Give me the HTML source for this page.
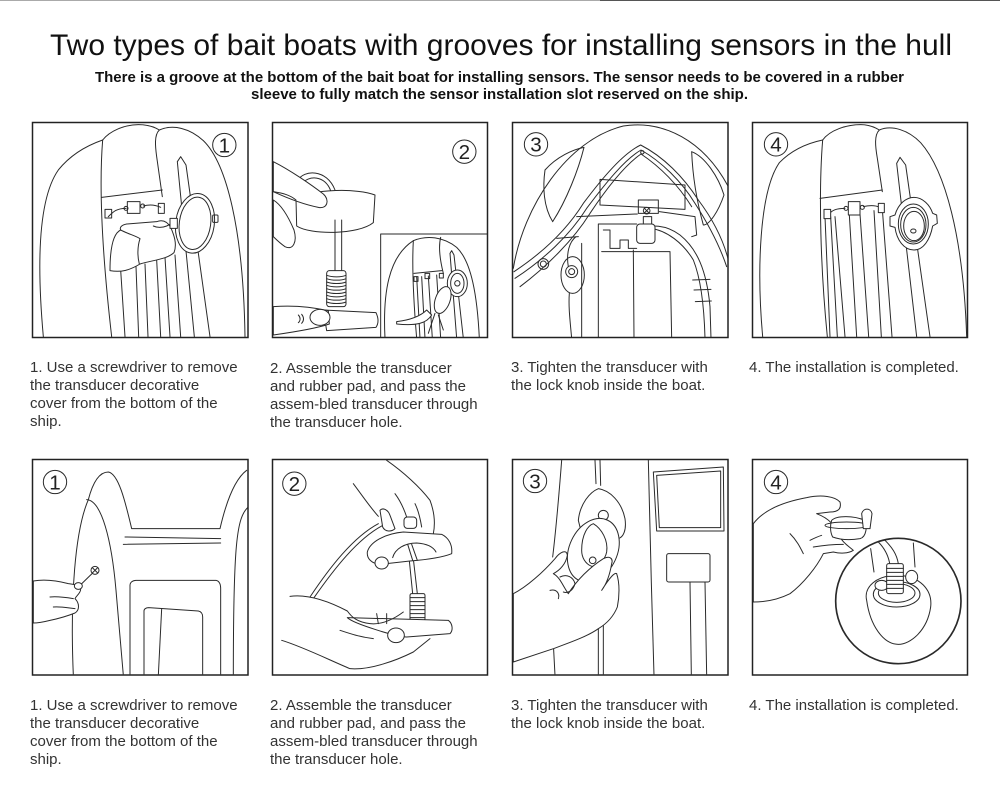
<!DOCTYPE html>
<html>
<head>
<meta charset="utf-8">
<style>
html,body{margin:0;padding:0;background:#fff;}
body{width:1000px;height:803px;overflow:hidden;}
svg{display:block;}
.t{font-family:"Liberation Sans",Arial,sans-serif;}
.cap{font-family:"Liberation Sans",Arial,sans-serif;font-size:15px;fill:#333;}
.art{fill:none;stroke:#2a2a2a;stroke-width:3;stroke-linecap:round;stroke-linejoin:round;}
.art .w{fill:#fff;}
.lbl{font-family:"Liberation Sans",Arial,sans-serif;font-size:62px;fill:#222;stroke:none;}
.box{fill:none;stroke:#222;stroke-width:1.5;}
</style>
</head>
<body>
<svg width="1000" height="803" viewBox="0 0 1000 803" xmlns="http://www.w3.org/2000/svg">
<defs>
<clipPath id="pc" clipPathUnits="userSpaceOnUse"><rect x="9" y="9" width="645" height="643"/></clipPath>
</defs>
<line x1="0" y1="0.5" x2="600" y2="0.5" stroke="#aaa" stroke-width="1"/>
<line x1="600" y1="0.5" x2="1000" y2="0.5" stroke="#555" stroke-width="1"/>

<text class="t" x="50" y="55" font-size="30" fill="#111" textLength="902" lengthAdjust="spacingAndGlyphs">Two types of bait boats with grooves for installing sensors in the hull</text>
<text class="t" x="95" y="82" font-size="15" font-weight="bold" fill="#111" textLength="809" lengthAdjust="spacingAndGlyphs">There is a groove at the bottom of the bait boat for installing sensors. The sensor needs to be covered in a rubber</text>
<text class="t" x="251" y="99" font-size="15" font-weight="bold" fill="#111" textLength="497" lengthAdjust="spacingAndGlyphs">sleeve to fully match the sensor installation slot reserved on the ship.</text>

<!-- ROW 1 PANEL 1 -->
<g class="art" transform="translate(30,120) scale(0.33333)" clip-path="url(#pc)">
<path d="M40,650 C22,450 22,240 85,150 C125,100 175,75 218,60"/>
<path d="M218,60 C240,32 285,14 325,14 C352,14 372,20 388,30"/>
<path d="M218,60 C205,220 222,450 245,650"/>
<path d="M388,30 C430,12 480,25 520,62 C590,130 640,330 645,650"/>
<path d="M388,30 C372,45 376,80 380,110 L397,230"/>
<path d="M442,125 L452,110 L468,135 L540,650 M442,125 L493,650"/>
<path d="M215,232 L397,210"/>
<path d="M272,450 L285,650 M318,440 L326,650 M345,432 L354,650 M380,420 L392,650 M405,412 L420,650 M435,405 L452,650"/>
<ellipse class="w" cx="495" cy="310" rx="58" ry="90" transform="rotate(8 495 310)"/>
<ellipse cx="495" cy="310" rx="47" ry="79" transform="rotate(8 495 310)"/>
<rect x="548" y="285" width="16" height="22" rx="3"/>
<path d="M235,290 C250,275 260,265 288,265 M340,258 C358,253 375,254 392,262"/>
<rect x="292" y="245" width="38" height="35"/>
<circle cx="288" cy="265" r="6"/><circle cx="338" cy="258" r="6"/>
<rect x="225" y="268" width="20" height="26"/><rect x="385" y="250" width="18" height="30"/>
<path class="w" d="M240,452 C275,458 300,450 330,432 C370,420 410,418 432,398 C442,372 432,345 422,322 C412,305 398,298 380,305 L290,312 C275,315 268,322 272,330 C250,340 240,380 240,452 Z"/>
<path d="M272,330 C295,342 318,348 330,356 C322,380 322,410 328,432 M370,318 C385,325 400,322 410,318 L435,305"/>
<rect class="w" x="420" y="295" width="22" height="30"/>
<circle cx="583" cy="75" r="35"/><text class="lbl" x="583" y="97" text-anchor="middle">1</text>
</g>

<!-- ROW 1 PANEL 2 -->
<g class="art" transform="translate(270,120) scale(0.33333)" clip-path="url(#pc)">
<path d="M85,180 C100,150 170,145 195,210 M95,192 C115,165 165,165 182,212"/>
<path class="w" d="M78,238 C130,205 265,205 315,225 L310,308 C265,345 120,345 80,318 Z"/>
<path d="M195,300 L195,455 M215,300 L215,455"/>
<rect class="w" x="170" y="452" width="58" height="108" rx="8"/>
<path d="M170,466 C185,472 215,472 228,466 M170,476 C185,482 215,482 228,476 M170,486 C185,492 215,492 228,486 M170,496 C185,502 215,502 228,496 M170,506 C185,512 215,512 228,506 M170,516 C185,522 215,522 228,516 M170,526 C185,532 215,532 228,526 M170,536 C185,542 215,542 228,536 M170,546 C185,552 215,552 228,546"/>
<path class="w" d="M160,570 L318,578 C326,595 326,610 318,622 L170,632 Z"/>
<path class="w" d="M10,125 C60,150 125,195 160,222 C180,240 172,268 145,262 C110,255 60,238 10,215 Z"/>
<path class="w" d="M10,240 C35,255 55,290 72,330 C82,365 70,392 45,380 C30,370 20,360 10,350 Z"/>
<path d="M10,215 C40,220 60,225 78,240"/>
<path class="w" d="M10,560 C70,555 130,562 175,572 L178,612 C140,625 80,635 10,645 Z"/>
<ellipse class="w" cx="150" cy="592" rx="30" ry="24"/>
<path d="M85,585 C92,592 92,602 85,608 M95,583 C102,592 102,602 95,610"/>
<path class="w" d="M332,660 L332,342 L660,342 L660,660 Z"/>
<path d="M345,655 C338,520 355,410 430,362 C470,345 520,350 560,382 C605,425 622,530 628,655"/>
<path d="M430,362 C425,450 432,560 440,655 M512,352 C505,380 510,420 520,460 M432,460 L515,452"/>
<path d="M440,470 L450,655 M455,470 L465,655 M475,468 L487,655 M500,465 L512,655"/>
<path d="M540,400 L545,392 L552,405 L580,655 M540,400 L560,655"/>
<ellipse class="w" cx="562" cy="490" rx="30" ry="40"/><ellipse cx="562" cy="490" rx="20" ry="30"/><circle cx="562" cy="490" r="8"/>
<rect x="432" y="470" width="12" height="14"/><rect x="465" y="460" width="14" height="16"/><rect x="508" y="460" width="12" height="14"/>
<ellipse class="w" cx="518" cy="540" rx="22" ry="42" transform="rotate(20 518 540)"/>
<path class="w" d="M380,605 C420,600 450,590 470,570 L485,585 C470,610 440,618 380,612 Z"/>
<path d="M495,580 L475,640 M505,585 L520,630"/>
<circle cx="583" cy="95" r="35"/><text class="lbl" x="583" y="117" text-anchor="middle">2</text>
</g>

<!-- ROW 1 PANEL 3 -->
<g class="art" transform="translate(510,120) scale(0.33333)" clip-path="url(#pc)">
<path d="M10,445 C40,260 170,60 340,18 C460,0 580,60 655,200"/>
<path d="M105,150 C140,110 190,88 222,82 C205,150 170,240 128,305 C100,260 98,200 105,150 Z"/>
<path d="M545,95 C585,110 625,170 642,225 C625,275 598,315 580,315 C562,250 548,170 545,95 Z"/>
<path d="M12,455 C95,400 170,330 220,250 C280,170 340,100 392,75 C460,110 520,170 565,240 C610,300 640,360 655,420"/>
<path d="M15,475 C100,420 180,345 230,265 C290,185 345,118 393,90 C455,125 515,185 555,250 C600,320 630,380 650,440"/>
<path d="M30,500 C110,440 190,360 240,280 C290,205 345,135 393,102 C450,140 505,195 545,260"/>
<circle cx="397" cy="97" r="5"/>
<path d="M270,178 L525,195 L525,268 L270,255 Z"/>
<path d="M200,290 L382,282 M448,275 L555,290 L560,345 L545,350"/>
<rect x="385" y="240" width="60" height="40"/>
<circle cx="410" cy="272" r="10"/><path d="M403,265 L417,279 M417,265 L403,279"/>
<rect x="400" y="290" width="25" height="22"/>
<path d="M265,655 L265,312 L380,312 M280,330 L300,330 L300,385 L330,385 L330,360 L355,360 L355,385 L380,385"/>
<path d="M370,390 L372,655 M480,395 L485,655 M275,395 L480,395"/>
<path d="M385,330 C420,310 470,315 510,345 C560,385 590,450 600,560 L603,655"/>
<path d="M420,325 C470,330 520,370 550,420 C570,470 582,540 585,655"/>
<path d="M548,480 L600,478 M552,510 L603,508 M556,545 L604,543"/>
<rect class="w" x="380" y="312" width="55" height="58" rx="10"/>
<ellipse class="w" cx="188" cy="465" rx="35" ry="55"/>
<circle cx="185" cy="455" r="18"/><circle cx="185" cy="455" r="9"/>
<path d="M175,440 C168,400 178,365 198,350 M140,355 L205,350"/>
<path d="M185,655 C180,600 175,560 178,520 M215,655 L215,370"/>
<circle cx="100" cy="432" r="16"/><circle cx="100" cy="432" r="9"/>
<circle cx="78" cy="73" r="35"/><text class="lbl" x="78" y="95" text-anchor="middle">3</text>
</g>

<!-- ROW 1 PANEL 4 -->
<g class="art" transform="translate(750,120) scale(0.33333)" clip-path="url(#pc)">
<path d="M38,650 C20,450 28,215 88,128 C130,85 180,68 218,60"/>
<path d="M218,60 C240,30 290,14 332,14 C358,14 375,22 388,30"/>
<path d="M218,60 C205,220 212,450 232,650"/>
<path d="M388,30 C425,14 475,30 512,68 C585,150 640,350 650,650"/>
<path d="M388,30 C372,45 376,80 382,115 L397,215"/>
<path d="M210,235 L397,210"/>
<path d="M440,130 L450,112 L467,135 L540,650 M440,130 L500,650"/>
<path d="M225,290 L240,650 M242,290 L262,650 M255,290 L285,650 M298,285 L320,650 M330,282 L356,650 M372,272 L394,650 M397,268 L426,650"/>
<path d="M235,285 C245,270 260,265 285,265 M340,260 C360,255 375,255 390,262"/>
<rect class="w" x="222" y="268" width="20" height="28"/><rect class="w" x="295" y="245" width="35" height="40"/><rect class="w" x="385" y="250" width="18" height="28"/>
<circle cx="288" cy="265" r="6"/><circle cx="337" cy="262" r="6"/>
<path class="w" d="M420,290 L435,285 C445,250 470,232 492,232 C518,232 540,255 548,280 L560,285 L562,310 L548,318 C540,360 520,390 492,390 C462,390 440,360 435,322 L420,318 Z"/>
<ellipse cx="490" cy="312" rx="45" ry="60"/><ellipse cx="490" cy="314" rx="38" ry="52"/><ellipse cx="492" cy="318" rx="31" ry="44"/>
<ellipse cx="490" cy="333" rx="8" ry="6"/>
<circle cx="78" cy="73" r="35"/><text class="lbl" x="78" y="95" text-anchor="middle">4</text>
</g>

<!-- ROW 2 PANEL 1 -->
<g class="art" transform="translate(30,457) scale(0.33333)" clip-path="url(#pc)">
<path d="M130,655 C120,420 135,220 175,128 C190,70 210,45 235,45 C265,50 285,130 305,215 L570,215 C585,150 610,70 650,40"/>
<path d="M170,128 C215,130 245,250 258,400 C268,520 275,600 280,655"/>
<path d="M655,150 C620,180 610,260 610,655"/>
<path d="M285,240 L572,245 M280,262 L572,258"/>
<path d="M300,655 L300,385 C300,376 308,370 318,370 L558,370 C568,372 572,382 572,395 L572,655"/>
<path d="M342,655 L342,462 C342,456 348,452 356,452 L505,462 C514,464 518,470 518,480 L518,655"/>
<path d="M395,455 L385,655"/>
<path class="w" d="M10,372 C45,366 85,372 115,380 C135,382 150,386 152,398 C150,410 140,415 135,425 C150,440 148,460 135,468 C110,478 85,485 60,490 C40,495 25,498 10,498 Z"/>
<path d="M60,420 C80,418 100,420 130,425 M70,450 C90,448 110,452 135,455"/>
<path d="M150,385 L188,348"/>
<circle class="w" cx="195" cy="340" r="12"/><path d="M188,333 L202,347 M202,333 L188,347"/>
<ellipse class="w" cx="145" cy="387" rx="12" ry="10"/>
<circle cx="75" cy="75" r="35"/><text class="lbl" x="75" y="97" text-anchor="middle">1</text>
</g>

<!-- ROW 2 PANEL 2 -->
<g class="art" transform="translate(270,457) scale(0.33333)" clip-path="url(#pc)">
<path d="M325,200 C250,240 180,330 120,420 M337,206 C262,246 192,336 132,422"/>
<path d="M250,80 C280,120 300,150 325,178"/>
<path d="M350,10 C400,45 450,90 480,130 C495,170 495,205 490,230"/>
<path d="M375,110 C390,130 400,150 410,180 M435,140 C445,160 450,180 455,210"/>
<path class="w" d="M330,160 C340,150 355,160 360,175 L375,215 C365,225 345,225 338,210 Z"/>
<rect class="w" x="402" y="180" width="38" height="34" rx="10"/>
<path d="M413,262 L428,410 M425,262 L442,410"/>
<path class="w" d="M292,285 C300,255 345,230 400,225 L515,232 C535,242 548,262 545,290 C520,300 470,308 420,312 L330,322 C305,320 290,305 292,285 Z"/>
<path d="M368,302 C375,275 405,258 440,258 C470,260 490,270 498,285"/>
<path d="M413,262 L428,310 M425,262 L442,310"/>
<ellipse class="w" cx="335" cy="318" rx="20" ry="18"/>
<rect class="w" x="420" y="410" width="45" height="80" rx="5"/>
<path d="M420,422 L465,422 M420,434 L465,434 M420,446 L465,446 M420,458 L465,458 M420,470 L465,470 M420,482 L465,482"/>
<path class="w" d="M232,482 L535,490 C548,500 550,520 540,530 L410,540 C380,540 250,500 232,482 Z"/>
<path d="M60,418 C120,410 190,440 232,462 C245,480 260,495 300,500 C340,505 380,480 400,465"/>
<path d="M35,550 C100,570 180,610 240,635 C300,640 380,610 430,585 L480,545"/>
<path d="M210,520 C240,530 270,540 310,545 M320,470 L325,500 M350,470 L350,500"/>
<ellipse class="w" cx="378" cy="535" rx="25" ry="22"/>
<circle cx="73" cy="80" r="35"/><text class="lbl" x="73" y="102" text-anchor="middle">2</text>
</g>

<!-- ROW 2 PANEL 3 -->
<g class="art" transform="translate(510,457) scale(0.33333)" clip-path="url(#pc)">
<path d="M155,10 C148,100 140,200 128,300"/>
<path d="M255,10 L258,80 M270,10 L272,85 M265,420 L265,655 M280,420 L280,655 M130,560 L135,655"/>
<path d="M415,10 C420,200 425,450 432,655"/>
<path d="M430,45 L640,30 L642,222 L440,222 Z M440,55 L632,42 L632,212 L448,212 Z"/>
<rect x="470" y="290" width="130" height="85" rx="6"/>
<path d="M540,375 L544,655 M585,375 L590,655"/>
<path class="w" d="M205,190 C210,140 240,105 265,95 C300,100 335,135 345,185 C350,220 340,240 325,245 C290,255 240,250 215,230 Z"/>
<circle cx="280" cy="175" r="15"/>
<ellipse class="w" cx="250" cy="280" rx="72" ry="100" transform="rotate(25 250 280)"/>
<path d="M215,280 C215,230 235,205 250,200 C275,215 295,250 290,285 C285,310 262,330 245,328 C225,320 215,300 215,280 Z"/>
<circle cx="248" cy="310" r="10"/>
<path class="w" d="M10,410 C50,390 100,345 135,305 C150,285 170,275 172,295 C168,320 150,340 130,350 C150,360 160,390 175,410 C200,370 240,330 280,305 C300,295 310,305 305,320 C300,350 290,380 275,400 C300,360 315,345 320,350 C330,380 328,420 322,450 C310,480 290,500 265,515 C230,540 170,560 130,575 C80,592 40,605 10,615 Z"/>
<path d="M150,360 C170,350 190,360 195,380 C190,400 175,410 160,405 M120,400 C140,395 150,410 145,425"/>
<circle cx="75" cy="72" r="35"/><text class="lbl" x="75" y="94" text-anchor="middle">3</text>
</g>

<!-- ROW 2 PANEL 4 -->
<g class="art" transform="translate(750,457) scale(0.33333)" clip-path="url(#pc)">
<circle cx="445" cy="432" r="188" stroke-width="5"/>
<path d="M362,275 L372,345 M490,258 L495,330"/>
<path d="M420,325 C415,290 400,270 385,255 M445,320 C440,290 425,270 405,250"/>
<path d="M350,430 C340,390 380,355 440,355 C510,355 548,400 542,450 C532,520 482,562 445,562 C400,562 360,505 350,430 Z"/>
<ellipse cx="440" cy="412" rx="70" ry="38"/>
<ellipse class="w" cx="440" cy="408" rx="55" ry="28"/>
<ellipse class="w" cx="395" cy="385" rx="20" ry="15"/><ellipse class="w" cx="485" cy="360" rx="18" ry="20"/>
<rect class="w" x="410" y="320" width="50" height="90" rx="6"/>
<path d="M410,334 L460,334 M410,346 L460,346 M410,358 L460,358 M410,370 L460,370 M410,382 L460,382 M410,394 L460,394"/>
<path class="w" d="M10,200 C40,160 100,135 170,122 C215,112 255,118 270,135 C275,155 265,165 240,165 L200,170 C240,185 260,210 270,240 C280,260 300,270 310,280 C295,290 270,290 250,285 L220,290 C200,330 160,380 120,410 C80,430 40,435 10,435 Z"/>
<path class="w" d="M245,190 C260,175 310,175 345,190 C352,205 350,240 330,245 C300,250 270,248 248,240 C240,225 240,205 245,190 Z"/>
<ellipse cx="290" cy="205" rx="65" ry="10"/>
<path class="w" d="M335,170 C340,152 362,152 366,170 L360,215 L340,215 Z"/>
<path d="M190,270 C220,265 250,262 280,262 M180,250 C190,245 200,240 215,235 M120,230 C140,250 150,270 160,290"/>
<circle cx="78" cy="75" r="35"/><text class="lbl" x="78" y="97" text-anchor="middle">4</text>
</g>

<!-- boxes -->
<rect class="box" x="32.5" y="122.5" width="215.5" height="215"/>
<rect class="box" x="272.5" y="122.5" width="215" height="215"/>
<rect class="box" x="512.5" y="122.5" width="215.5" height="215"/>
<rect class="box" x="752.5" y="122.5" width="215" height="215"/>
<rect class="box" x="32.5" y="459.5" width="215.5" height="215.5"/>
<rect class="box" x="272.5" y="459.5" width="215" height="215.5"/>
<rect class="box" x="512.5" y="459.5" width="215.5" height="215.5"/>
<rect class="box" x="752.5" y="459.5" width="215" height="215.5"/>

<!-- captions row 1 -->
<text class="cap" x="30" y="372">1. Use a screwdriver to remove</text>
<text class="cap" x="30" y="390">the transducer decorative</text>
<text class="cap" x="30" y="408">cover from the bottom of the</text>
<text class="cap" x="30" y="426">ship.</text>
<text class="cap" x="270" y="373">2. Assemble the transducer</text>
<text class="cap" x="270" y="391">and rubber pad, and pass the</text>
<text class="cap" x="270" y="409">assem-bled transducer through</text>
<text class="cap" x="270" y="427">the transducer hole.</text>
<text class="cap" x="511" y="372">3. Tighten the transducer with</text>
<text class="cap" x="511" y="390">the lock knob inside the boat.</text>
<text class="cap" x="749" y="372">4. The installation is completed.</text>

<!-- captions row 2 -->
<text class="cap" x="30" y="710">1. Use a screwdriver to remove</text>
<text class="cap" x="30" y="728">the transducer decorative</text>
<text class="cap" x="30" y="746">cover from the bottom of the</text>
<text class="cap" x="30" y="764">ship.</text>
<text class="cap" x="270" y="710">2. Assemble the transducer</text>
<text class="cap" x="270" y="728">and rubber pad, and pass the</text>
<text class="cap" x="270" y="746">assem-bled transducer through</text>
<text class="cap" x="270" y="764">the transducer hole.</text>
<text class="cap" x="511" y="710">3. Tighten the transducer with</text>
<text class="cap" x="511" y="728">the lock knob inside the boat.</text>
<text class="cap" x="749" y="710">4. The installation is completed.</text>
</svg>
</body>
</html>
